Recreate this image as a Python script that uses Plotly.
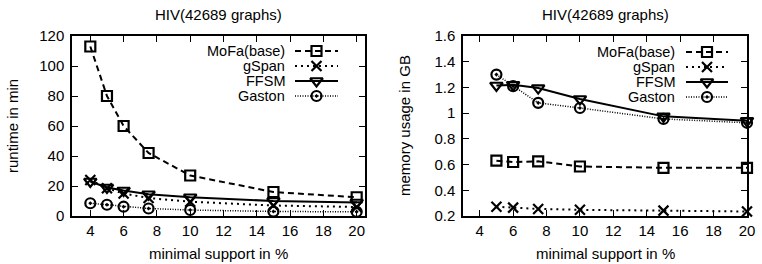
import plotly.graph_objects as go

# ---------------- data ----------------
support_runtime = [4, 5, 6, 7.5, 10, 15, 20]
mofa_runtime = [113, 80, 60, 42, 27, 16, 12.5]
gspan_runtime = [24, 18.5, 15, 12, 9.5, 7, 6]
ffsm_runtime = [23, 19, 17, 14.5, 12.5, 10, 9]
gaston_runtime = [8.5, 7.5, 6.2, 5, 4, 3, 2.8]

support_memory = [5, 6, 7.5, 10, 15, 20]
mofa_memory = [0.63, 0.62, 0.625, 0.585, 0.575, 0.575]
gspan_memory = [0.272, 0.265, 0.255, 0.248, 0.242, 0.235]
ffsm_memory = [1.215, 1.22, 1.195, 1.11, 0.975, 0.94]
gaston_memory = [1.3, 1.21, 1.08, 1.04, 0.955, 0.925]

algorithms = ["MoFa(base)", "gSpan", "FFSM", "Gaston"]
x_tick_values = [4, 6, 8, 10, 12, 14, 16, 18, 20]
runtime_ticks = [0, 20, 40, 60, 80, 100, 120]
memory_ticks = [0.2, 0.4, 0.6, 0.8, 1.0, 1.2, 1.4, 1.6]
memory_tick_text = ["0.2", "0.4", "0.6", "0.8", "1", "1.2", "1.4", "1.6"]
title_text = "HIV(42689 graphs)"

# ---------------- styles ----------------
W, H = 762, 264
FONT = "Liberation Sans, Arial, sans-serif"
FS = 15
LFS = 14.5
styles = {
    "MoFa(base)": dict(dash="6px,4px", width=2, symbol="square-open", size=10),
    "gSpan": dict(dash="2px,4px", width=2, symbol="x-thin-open", size=10),
    "FFSM": dict(dash="solid", width=2, symbol="triangle-down-open", size=11),
    "Gaston": dict(dash="1px,1.5px", width=1.5, symbol="circle-open-dot", size=10),
}

def fx(p):
    return p / W

def fy(p):
    return 1 - p / H

left_px = (72, 365)
right_px = (463, 747)
top_px, bot_px = 36, 216

fig = go.Figure()

runtime_series = [mofa_runtime, gspan_runtime, ffsm_runtime, gaston_runtime]
memory_series = [mofa_memory, gspan_memory, ffsm_memory, gaston_memory]

for name, ys in zip(algorithms, runtime_series):
    s = styles[name]
    fig.add_trace(go.Scatter(
        x=support_runtime, y=ys, mode="lines+markers", name=name,
        xaxis="x", yaxis="y", showlegend=False, cliponaxis=False,
        line=dict(color="black", width=s["width"], dash=s["dash"]),
        marker=dict(symbol=s["symbol"], size=s["size"], color="black",
                    line=dict(color="black", width=2.2)),
    ))
for name, ys in zip(algorithms, memory_series):
    s = styles[name]
    fig.add_trace(go.Scatter(
        x=support_memory, y=ys, mode="lines+markers", name=name,
        xaxis="x2", yaxis="y2", showlegend=False, cliponaxis=False,
        line=dict(color="black", width=s["width"], dash=s["dash"]),
        marker=dict(symbol=s["symbol"], size=s["size"], color="black",
                    line=dict(color="black", width=2.2)),
    ))

# legend keys (gnuplot style: text then sample) on pixel-unit overlay axes
legend_cfg = [
    ("x3", "y3", 286, 295, 338, [51, 66, 81, 96]),
    ("x4", "y4", 676, 686, 728, [52, 67, 82, 97]),
]
annotations = []
for xa, ya, tr, s0, s1, rows in legend_cfg:
    for name, row in zip(algorithms, rows):
        s = styles[name]
        fig.add_trace(go.Scatter(
            x=[s0, s1], y=[row, row], mode="lines", xaxis=xa, yaxis=ya,
            showlegend=False, hoverinfo="skip",
            line=dict(color="black", width=s["width"], dash=s["dash"]),
        ))
        fig.add_trace(go.Scatter(
            x=[(s0 + s1) / 2], y=[row], mode="markers", xaxis=xa, yaxis=ya,
            showlegend=False, hoverinfo="skip",
            marker=dict(symbol=s["symbol"], size=s["size"], color="black",
                        line=dict(color="black", width=2.2)),
        ))
        annotations.append(dict(
            x=fx(tr), y=fy(row), xref="paper", yref="paper", text=name,
            showarrow=False, xanchor="right", yanchor="middle", borderpad=0,
            font=dict(family=FONT, size=LFS, color="black"),
        ))

# titles and axis titles
for (l, r), ytitle, ytx in [(left_px, "runtime in min", 12), (right_px, "memory usage in GB", 404)]:
    annotations.append(dict(x=fx((l + r) / 2), y=fy(15), xref="paper", yref="paper",
                            text=title_text, showarrow=False, xanchor="center", yanchor="middle",
                            font=dict(family=FONT, size=FS, color="black")))
    annotations.append(dict(x=fx((l + r) / 2), y=fy(253), xref="paper", yref="paper",
                            text="minimal support in %", showarrow=False, xanchor="center",
                            yanchor="middle", font=dict(family=FONT, size=FS, color="black")))
    annotations.append(dict(x=fx(ytx), y=fy((top_px + bot_px) / 2), xref="paper", yref="paper",
                            text=ytitle, showarrow=False, xanchor="center", yanchor="middle",
                            textangle=-90, font=dict(family=FONT, size=FS, color="black")))

ydom = [fy(bot_px), fy(top_px)]
axis_common = dict(
    showline=True, linecolor="black", linewidth=1.5, mirror="ticks",
    ticks="inside", ticklen=6, tickwidth=1.2, tickcolor="black",
    showgrid=False, zeroline=False, automargin=False,
    tickfont=dict(family=FONT, size=FS, color="black"),
)
helper = dict(visible=False, showgrid=False, zeroline=False, fixedrange=True, automargin=False)

fig.update_layout(
    width=W, height=H, margin=dict(l=0, r=0, t=0, b=0, autoexpand=False),
    paper_bgcolor="white", plot_bgcolor="white",
    showlegend=False,
    xaxis=dict(domain=[fx(left_px[0]), fx(left_px[1])], range=[2.9, 20.5], anchor="y",
               tickvals=x_tick_values, ticklabelstandoff=0, **axis_common),
    yaxis=dict(domain=ydom, range=[0, 120], anchor="x", tickvals=runtime_ticks,
               ticklabelstandoff=3, **axis_common),
    xaxis2=dict(domain=[fx(right_px[0]), fx(right_px[1])], range=[3, 20], anchor="y2",
                tickvals=x_tick_values, ticklabelstandoff=0, **axis_common),
    yaxis2=dict(domain=ydom, range=[0.2, 1.6], anchor="x2", tickvals=memory_ticks,
                ticktext=memory_tick_text, ticklabelstandoff=3, **axis_common),
    xaxis3=dict(overlaying="x", range=list(left_px), anchor="y3", **helper),
    yaxis3=dict(overlaying="y", range=[bot_px, top_px], anchor="x3", **helper),
    xaxis4=dict(overlaying="x2", range=list(right_px), anchor="y4", **helper),
    yaxis4=dict(overlaying="y2", range=[bot_px, top_px], anchor="x4", **helper),
    annotations=annotations,
)

fig.write_html("out.html")
